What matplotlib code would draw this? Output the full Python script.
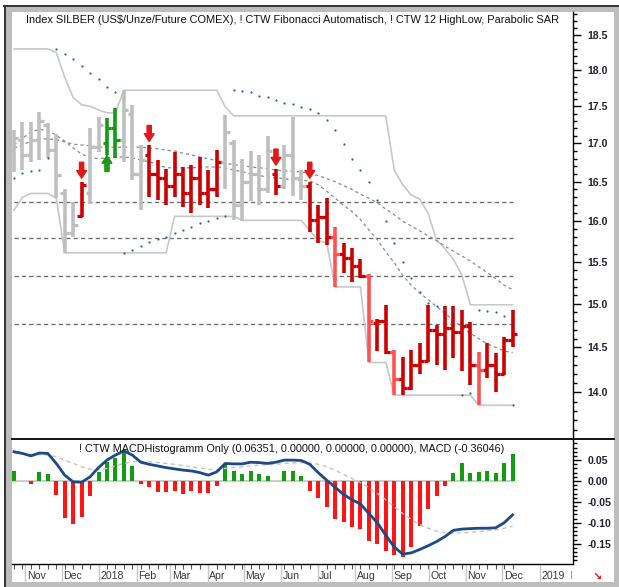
import numpy as np
import pandas as pd
import matplotlib
matplotlib.use('Agg')
import matplotlib.pyplot as plt
import matplotlib.dates as mdates
from matplotlib.ticker import FixedLocator, NullFormatter, FormatStrFormatter, NullLocator
from matplotlib.patches import Rectangle
from matplotlib.lines import Line2D
from matplotlib.transforms import blended_transform_factory

plt.rcParams['font.family'] = ['Liberation Sans', 'DejaVu Sans']

W, H, DPI = 619, 587, 100

# ---------------- data ----------------
first_week = '2017-10-20'
n_weeks = 60
bar_colors = (['grey'] * 8 + ['red'] + ['grey'] * 2 + ['green'] * 2 + ['grey'] * 3 +
              ['red'] * 9 + ['grey'] * 6 + ['red'] + ['grey'] * 3 + ['red'] * 3 + ['light'] +
              ['red'] * 3 + ['light'] + ['red'] * 2 + ['light'] + ['red'] * 9 + ['light'] + ['red'] * 4)

opens = [16.91, 17.05, 16.85, 17.05, 17.25, 16.91, 16.35, 15.85, 16.07, 16.35,
         16.95, 17.00, 17.20, 17.05, 17.40, 16.60, 16.85, 16.60, 16.55, 16.45,
         16.60, 16.35, 16.55, 16.35, 16.40, 16.75, 17.00, 16.20, 16.50, 16.60,
         16.40, 16.60, 16.45, 16.85, 16.55, 16.45, 16.02, 16.05, 15.80, 15.60,
         15.55, 15.45, 15.33, 14.78, 14.80, 14.45, 14.15, 14.05, 14.30, 14.35,
         14.70, 14.65, 14.72, 14.67, 14.74, 14.30, 14.25, 14.30, 14.20, 14.58]
highs = [17.18, 17.29, 17.29, 17.42, 17.27, 17.13, 16.40, 16.24, 16.50, 17.20,
         17.35, 17.34, 17.48, 17.72, 17.52, 16.98, 16.98, 16.78, 16.67, 16.89,
         16.69, 16.72, 16.82, 16.65, 16.91, 17.38, 17.05, 16.80, 16.90, 16.85,
         17.10, 16.67, 16.98, 17.36, 16.65, 16.50, 16.20, 16.29, 15.93, 15.73,
         15.67, 15.54, 15.35, 14.82, 14.99, 14.47, 14.39, 14.47, 14.55, 14.99,
         14.75, 14.98, 14.98, 14.93, 14.79, 14.45, 14.55, 14.44, 14.62, 14.93]
lows = [16.62, 16.65, 16.76, 16.78, 16.81, 16.29, 15.61, 15.80, 16.05, 16.22,
        16.89, 16.85, 16.81, 16.75, 16.52, 16.14, 16.30, 16.27, 16.20, 16.31,
        16.18, 16.10, 16.20, 16.16, 16.30, 16.40, 16.02, 16.00, 16.25, 16.20,
        16.35, 16.33, 16.40, 16.32, 16.27, 15.86, 15.73, 15.71, 15.20, 15.37,
        15.26, 15.31, 14.33, 14.46, 14.42, 13.97, 13.97, 14.03, 14.20, 14.33,
        14.30, 14.25, 14.38, 14.23, 14.08, 13.86, 14.16, 14.00, 14.19, 14.50]
closes = [17.07, 16.85, 17.05, 17.30, 16.91, 16.59, 15.85, 15.95, 16.46, 16.95,
          17.25, 17.20, 17.05, 17.45, 16.60, 16.78, 16.60, 16.55, 16.45, 16.60,
          16.35, 16.55, 16.35, 16.40, 16.75, 17.15, 16.20, 16.50, 16.60, 16.40,
          16.90, 16.45, 16.85, 16.55, 16.45, 16.02, 16.05, 15.80, 15.60, 15.55,
          15.45, 15.33, 14.80, 14.80, 14.45, 14.15, 14.05, 14.30, 14.35, 14.70,
          14.65, 14.72, 14.67, 14.74, 14.30, 14.25, 14.30, 14.20, 14.58, 14.65]

upper_env = ([18.30] * 5 + [18.25, 17.90, 17.62, 17.52, 17.50, 17.45, 17.41, 17.41] +
             [17.72] * 12 + [17.49] + [17.37] * 19 +
             [16.65, 16.46, 16.33, 16.28, 16.10, 15.77, 15.66, 15.53, 15.34] + [14.99] * 6)
lower_env = ([16.14, 16.30, 16.35, 16.35, 16.35, 16.29] + [15.61] * 13 + [16.06] * 8 +
             [16.01] * 8 + [15.88, 15.76, 15.73] + [15.20] * 4 + [14.33] * 3 +
             [13.97] * 10 + [13.86] * 5)

slow_ma = [16.94, 16.98, 17.03, 17.06, 17.06, 17.05, 17.02, 16.99, 16.98, 16.97,
           16.95, 16.95, 16.95, 16.95, 16.95, 16.95, 16.94, 16.93, 16.91, 16.90,
           16.87, 16.85, 16.82, 16.80, 16.77, 16.74, 16.72, 16.71, 16.69, 16.68,
           16.67, 16.65, 16.64, 16.63, 16.63, 16.60, 16.58, 16.54, 16.50, 16.45,
           16.40, 16.34, 16.29, 16.23, 16.15, 16.08, 16.00, 15.94, 15.88, 15.82,
           15.76, 15.69, 15.63, 15.57, 15.51, 15.44, 15.37, 15.30, 15.22, 15.17]
fast_ma = [16.98, 17.07, 17.15, 17.19, 17.17, 17.11, 17.03, 16.94, 16.86, 16.81,
           16.80, 16.81, 16.82, 16.82, 16.81, 16.78, 16.76, 16.72, 16.68, 16.68,
           16.68, 16.68, 16.69, 16.69, 16.69, 16.68, 16.65, 16.63, 16.60, 16.58,
           16.56, 16.55, 16.54, 16.52, 16.52, 16.51, 16.46, 16.38, 16.29, 16.20,
           16.12, 16.02, 15.89, 15.77, 15.62, 15.49, 15.34, 15.22, 15.13, 15.05,
           14.97, 14.89, 14.81, 14.73, 14.66, 14.60, 14.54, 14.50, 14.46, 14.44]

sar = [16.55, 16.61, 16.64, 16.65, 16.81, 18.30, 18.23, 18.16, 18.06, 17.96,
       17.87, 17.77, 17.69, 15.61, 15.65, 15.69, 15.74, 15.78, 15.80, 15.85,
       15.89, 15.93, 15.98, 16.00, 16.04, 16.06, 17.72, 17.71, 17.69, 17.64,
       17.63, 17.58, 17.55, 17.53, 17.49, 17.46, 17.41, 17.31, 17.18, 16.99,
       16.80, 16.65, 16.50, 16.27, 16.00, 15.73, 15.50, 15.31, 15.14, 15.01,
       14.97, 14.94, 14.92, 13.97, 13.99, 14.93, 14.92, 14.90, 14.86, 13.86]

fib_levels = [14.77, 15.335, 15.79, 16.245]
down_arrow_weeks = [8, 16, 31, 35]
up_arrow_weeks = [11]

macd_hist = [0.025, 0.0, -0.008, 0.022, 0.017, -0.034, -0.088, -0.104, -0.085, -0.035,
             0.022, 0.046, 0.054, 0.074, 0.035, -0.008, -0.015, -0.027, -0.027, -0.024,
             -0.030, -0.025, -0.029, -0.029, -0.012, 0.040, 0.025, 0.017, 0.025, 0.017,
             0.013, 0.0, 0.025, 0.024, 0.013, -0.024, -0.040, -0.062, -0.091, -0.099,
             -0.110, -0.115, -0.143, -0.151, -0.168, -0.178, -0.182, -0.158, -0.107, -0.067,
             -0.035, -0.012, 0.020, 0.042, 0.020, 0.022, 0.024, 0.020, 0.044, 0.0635]
macd_line = [0.070, 0.066, 0.060, 0.067, 0.066, 0.042, 0.014, -0.002, -0.003, 0.010,
             0.032, 0.050, 0.062, 0.072, 0.062, 0.045, 0.040, 0.036, 0.032, 0.029,
             0.026, 0.024, 0.020, 0.014, 0.022, 0.042, 0.041, 0.041, 0.045, 0.044,
             0.042, 0.045, 0.050, 0.050, 0.049, 0.040, 0.020, 0.002, -0.015, -0.032,
             -0.045, -0.055, -0.078, -0.100, -0.130, -0.158, -0.175, -0.172, -0.164, -0.155,
             -0.145, -0.133, -0.118, -0.115, -0.114, -0.113, -0.113, -0.112, -0.100, -0.081]
macd_signal = [0.066, 0.065, 0.064, 0.063, 0.062, 0.058, 0.050, 0.042, 0.034, 0.028,
               0.027, 0.030, 0.036, 0.042, 0.046, 0.047, 0.046, 0.044, 0.042, 0.040,
               0.037, 0.034, 0.031, 0.028, 0.027, 0.030, 0.032, 0.034, 0.036, 0.038,
               0.039, 0.040, 0.042, 0.043, 0.044, 0.043, 0.040, 0.034, 0.026, 0.016,
               0.006, -0.004, -0.016, -0.030, -0.045, -0.062, -0.078, -0.092, -0.104, -0.113,
               -0.120, -0.124, -0.125, -0.124, -0.123, -0.121, -0.119, -0.117, -0.113, -0.108]

price_ticks = [14.0, 14.5, 15.0, 15.5, 16.0, 16.5, 17.0, 17.5, 18.0, 18.5]
macd_ticks = [-0.15, -0.10, -0.05, 0.00, 0.05]
month_starts = ['2017-11-01', '2017-12-01', '2018-01-01', '2018-02-01', '2018-03-01',
                '2018-04-01', '2018-05-01', '2018-06-01', '2018-07-01', '2018-08-01',
                '2018-09-01', '2018-10-01', '2018-11-01', '2018-12-01', '2019-01-01']
month_labels = ['Nov', 'Dec', '2018', 'Feb', 'Mar', 'Apr', 'May', 'Jun', 'Jul', 'Aug',
                'Sep', 'Oct', 'Nov', 'Dec', '2019']

title_top = ('Index SILBER (US$/Unze/Future COMEX), ! CTW Fibonacci Automatisch, '
             '! CTW 12 HighLow, Parabolic SAR')
title_macd = ('! CTW MACDHistogramm Only (0.06351, 0.00000, 0.00000, 0.00000), '
              'MACD (-0.36046)')

# ---------------- styling ----------------
col_map = {'grey': '#bfbfbf', 'red': '#cc0000', 'light': '#ff5252', 'green': '#129a12'}

def fx(px):
    return px / W

def fy(py):
    return 1 - py / H

fig = plt.figure(figsize=(W / DPI, H / DPI), dpi=DPI)
fig.patch.set_facecolor('white')
# frame
fig.patches.append(Rectangle((fx(4), 0), 1 - fx(4), fy(6), transform=fig.transFigure,
                             facecolor='#bdbdbd', edgecolor='none', zorder=-20))
fig.patches.append(Rectangle((fx(12), fy(582)), fx(614) - fx(12), fy(12) - fy(582),
                             transform=fig.transFigure, facecolor='white',
                             edgecolor='none', zorder=-19))
fig.lines.append(Line2D([fx(4), 1], [fy(6), fy(6)], transform=fig.transFigure,
                        color='#333333', lw=1.4))
fig.lines.append(Line2D([fx(4.5), fx(4.5)], [0, fy(6)], transform=fig.transFigure,
                        color='#333333', lw=1.4))

ax_right = 572.7
ax1 = fig.add_axes([fx(12), fy(439), fx(ax_right) - fx(12), fy(12) - fy(439)])
ax2 = fig.add_axes([fx(12), fy(564), fx(ax_right) - fx(12), fy(440) - fy(564)])
for a in (ax1, ax2):
    a.set_facecolor('none')

dates = pd.date_range(first_week, periods=n_weeks, freq='7D')
xs = mdates.date2num(dates)
x_left = xs[0] - 1.66
x_right = xs[0] + 462.8

# ---- top panel ----
ax1.set_yscale('log')
ax1.set_ylim(13.50, 18.835)
ax1.set_xlim(x_left, x_right)

ax1.hlines(fib_levels, xs[0], xs[-1], colors='#6a6a6a', linestyles=(0, (3.2, 2.4)),
           lw=0.95, zorder=2)
ax1.plot(xs, upper_env, color='#c8c8c8', lw=1.2, zorder=2)
ax1.plot(xs, lower_env, color='#c8c8c8', lw=1.2, zorder=2)
ax1.plot(xs, slow_ma, color='#8a8a8a', lw=0.9, ls=(0, (2.5, 2.5)), zorder=2)
ax1.plot(xs, fast_ma, color='#8a8a8a', lw=0.9, ls=(0, (2.5, 2.5)), zorder=2)

cols = [col_map[c] for c in bar_colors]
tick_d = 3.6
ax1.vlines(xs, lows, highs, colors=cols, lw=2.6, zorder=3)
ax1.hlines(opens, xs - tick_d, xs, colors=cols, lw=2.3, zorder=3)
ax1.hlines(closes, xs, xs + tick_d, colors=cols, lw=2.3, zorder=3)

ax1.plot(xs, sar, ls='none', marker='o', ms=1.6, mfc='#3060a8', mec='none', zorder=4)

for i in down_arrow_weeks:
    ax1.annotate('', xy=(xs[i], highs[i]), xytext=(0, 14), textcoords='offset points',
                 arrowprops=dict(arrowstyle='simple,head_width=0.7,head_length=0.55,tail_width=0.3',
                                 color='#e01818', shrinkA=0, shrinkB=2.5, mutation_scale=10),
                 zorder=5)
for i in up_arrow_weeks:
    ax1.annotate('', xy=(xs[i], lows[i]), xytext=(0, -12), textcoords='offset points',
                 arrowprops=dict(arrowstyle='simple,head_width=0.7,head_length=0.55,tail_width=0.3',
                                 color='#1a9a1a', shrinkA=0, shrinkB=0.5, mutation_scale=10),
                 zorder=5)

for s in ('left', 'top', 'bottom'):
    ax1.spines[s].set_visible(False)
ax1.spines['right'].set_color('black')
ax1.spines['right'].set_linewidth(1.0)
ax1.yaxis.tick_right()
ax1.yaxis.set_major_locator(FixedLocator(price_ticks))
ax1.yaxis.set_major_formatter(FormatStrFormatter('%.1f'))
ax1.yaxis.set_minor_locator(FixedLocator(np.round(np.arange(13.6, 18.85, 0.1), 2)))
ax1.yaxis.set_minor_formatter(NullFormatter())
ax1.tick_params(axis='y', which='major', length=5.8, width=1.0, pad=5, labelsize=7.6,
                labelcolor='#222233', color='black')
ax1.tick_params(axis='y', which='minor', length=2.6, width=1.0, color='black')
ax1.xaxis.set_major_locator(NullLocator())
ax1.xaxis.set_minor_locator(NullLocator())
for t in ax1.get_yticklabels():
    t.set_fontweight('bold')

# ---- bottom panel ----
ax2.set_xlim(x_left, x_right)
ax2.set_ylim(-0.1986, 0.0981)
ax2.axhline(0, xmin=0.0, xmax=(xs[-1] - x_left) / (x_right - x_left), color='#c8c8c8',
            lw=1.3, zorder=1)
hcols = ['#129c12' if v >= 0 else '#ff1515' for v in macd_hist]
ax2.bar(xs, macd_hist, width=3.3, color=hcols, zorder=2)
ax2.plot(xs, macd_signal, color='#c4c4c4', lw=1.0, ls=(0, (3, 2.5)), zorder=3)
ax2.plot(xs, macd_line, color='#1c4a88', lw=2.0, zorder=4)

for s in ('left', 'top'):
    ax2.spines[s].set_visible(False)
for s in ('right', 'bottom'):
    ax2.spines[s].set_color('black')
    ax2.spines[s].set_linewidth(1.0)
ax2.yaxis.tick_right()
ax2.yaxis.set_major_locator(FixedLocator(macd_ticks))
ax2.yaxis.set_major_formatter(FormatStrFormatter('%.2f'))
ax2.yaxis.set_minor_locator(FixedLocator(np.round(np.arange(-0.19, 0.095, 0.01), 3)))
ax2.yaxis.set_minor_formatter(NullFormatter())
ax2.tick_params(axis='y', which='major', length=5.8, width=1.0, pad=5, labelsize=7.6,
                labelcolor='#222233')
ax2.tick_params(axis='y', which='minor', length=2.6, width=1.0)
for t in ax2.get_yticklabels():
    t.set_fontweight('bold')

ax2.xaxis.set_major_locator(NullLocator())
ax2.xaxis.set_minor_locator(FixedLocator(xs))
ax2.xaxis.set_minor_formatter(NullFormatter())
ax2.tick_params(axis='x', which='minor', length=3.5, width=0.8, color='#555555')

trans = blended_transform_factory(ax2.transData, ax2.transAxes)
for d, lab in zip(month_starts, month_labels):
    xm = mdates.date2num(pd.Timestamp(d)) - 2.5
    ax2.add_line(Line2D([xm, xm], [0, -0.145], transform=trans, color='#c8c8c8', lw=1.0,
                        clip_on=False))
    ax2.text(xm + 1.2, -0.098, lab, transform=trans, ha='left', va='center',
             fontsize=7.6, color='#3a3a3a', clip_on=False)

# separator between panels
fig.lines.append(Line2D([fx(12), fx(614)], [fy(439), fy(439)], transform=fig.transFigure,
                        color='black', lw=1.3))

# titles
fig.text(fx(292), fy(20), title_top, ha='center', va='center', fontsize=7.9, color='#111111')
fig.text(fx(292), fy(449), title_macd, ha='center', va='center', fontsize=7.8, color='#111111')
fig.text(fx(571), fy(576), 'I', ha='center', va='center', fontsize=7.5, color='#9a9a9a')
fig.text(fx(597), fy(577), '\u2198', ha='center', va='center', fontsize=8, color='#ee1111',
         fontweight='bold', family='DejaVu Sans')

fig.savefig('out.png', dpi=DPI)
